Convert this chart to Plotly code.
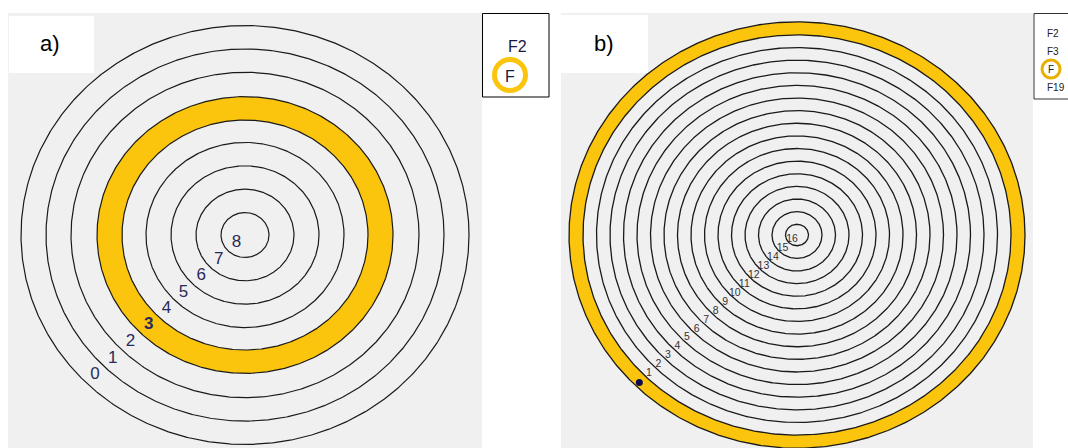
import numpy as np
import plotly.graph_objects as go

W, H = 1068, 448

# ---------------- data ----------------
# panel a: ring semi-axes (horizontal, px) for rings 0..8
A_RING_RX = [224, 199, 174, 148, 123, 99, 74, 49, 24]
A_LABELS = ["0", "1", "2", "3", "4", "5", "6", "7", "8"]
A_BAND = (3, 4)          # highlighted band lies between ring 3 and ring 4
A_BOLD_LABEL = "3"
A_LEGEND = ["F2", "F"]

# panel b: outer edge of highlighted band + rings 1..16
B_BAND_OUTER_RX = 228
B_RING_RX = [214, 200.5, 187, 173.5, 160, 146.5, 133, 119.5, 106, 92.5,
             79, 65.5, 52, 38.5, 25, 11.5]
B_LABELS = [str(i) for i in range(1, 17)]
B_LEGEND = ["F2", "F3", "F", "F19"]

ASPECT = 0.935           # vertical / horizontal semi-axis ratio

# ---------------- layout constants ----------------
A_C = (245, 235)
B_C = (797, 235)
YELLOW = "#FBC50E"
GRAY = "#F0F0F0"
LINE = "#1a1a1a"
FONT = "Arial, Liberation Sans, sans-serif"


def ellipse(c, rx, reverse=False, n=721):
    t = np.linspace(0, 2 * np.pi, n)
    if reverse:
        t = t[::-1]
    return c[0] + rx * np.cos(t), c[1] + rx * ASPECT * np.sin(t)


def band_trace(c, r_out, r_in):
    xo, yo = ellipse(c, r_out)
    xi, yi = ellipse(c, r_in, reverse=True)
    return go.Scatter(x=np.concatenate([xo, xi]), y=np.concatenate([yo, yi]),
                      mode="lines", fill="toself", fillcolor=YELLOW,
                      line=dict(width=0), hoverinfo="skip", showlegend=False)


def rings_trace(c, radii, width):
    xs, ys = [], []
    for r in radii:
        x, y = ellipse(c, r)
        xs += list(x) + [None]
        ys += list(y) + [None]
    return go.Scatter(x=xs, y=ys, mode="lines", line=dict(color=LINE, width=width),
                      hoverinfo="skip", showlegend=False)


def label_pos(c, radii, inset):
    d = np.array(radii) - inset
    ang = np.deg2rad(135)
    return c[0] + d * np.cos(ang), c[1] + d * ASPECT * np.sin(ang)


fig = go.Figure()

# panel a
fig.add_trace(band_trace(A_C, A_RING_RX[A_BAND[0]], A_RING_RX[A_BAND[1]]))
fig.add_trace(rings_trace(A_C, A_RING_RX, 1.2))
ax, ay = label_pos(A_C, A_RING_RX, 12)
fig.add_trace(go.Scatter(
    x=ax, y=ay, mode="text",
    text=[f"<b>{s}</b>" if s == A_BOLD_LABEL else s for s in A_LABELS],
    textfont=dict(family=FONT, size=17, color="#2a2a58"),
    hoverinfo="skip", showlegend=False))

# panel b
fig.add_trace(band_trace(B_C, B_BAND_OUTER_RX, B_RING_RX[0]))
fig.add_trace(rings_trace(B_C, [B_BAND_OUTER_RX] + B_RING_RX, 1.3))
bx, by = label_pos(B_C, B_RING_RX, 4.5)
fig.add_trace(go.Scatter(
    x=bx, y=by, mode="text", text=B_LABELS,
    textfont=dict(family=FONT, size=10.5, color="#333333"),
    hoverinfo="skip", showlegend=False))
# marker dot inside the band
dx, dy = label_pos(B_C, [(B_BAND_OUTER_RX + B_RING_RX[0]) / 2 + 2], 0)
fig.add_trace(go.Scatter(x=dx, y=dy, mode="markers",
                         marker=dict(size=7, color="#0b0b50", symbol="circle"),
                         hoverinfo="skip", showlegend=False))

# legend ring icons
fig.add_trace(go.Scatter(x=[510], y=[75], mode="markers",
                         marker=dict(symbol="circle-open", size=31, color=YELLOW,
                                     line=dict(width=5, color=YELLOW)),
                         hoverinfo="skip", showlegend=False))
fig.add_trace(go.Scatter(x=[1051], y=[69], mode="markers",
                         marker=dict(symbol="circle-open", size=18, color="#E8B000",
                                     line=dict(width=3, color="#E8B000")),
                         hoverinfo="skip", showlegend=False))

shapes = [
    dict(type="rect", x0=8, x1=482, y0=13, y1=449, fillcolor=GRAY, line=dict(width=0), layer="below"),
    dict(type="rect", x0=561, x1=1033, y0=13, y1=449, fillcolor=GRAY, line=dict(width=0), layer="below"),
    dict(type="rect", x0=9, x1=94, y0=16, y1=73, fillcolor="white", line=dict(width=0), layer="below"),
    dict(type="rect", x0=561, x1=648, y0=15, y1=73, fillcolor="white", line=dict(width=0), layer="below"),
    dict(type="rect", x0=482.5, x1=549, y0=13.5, y1=97, fillcolor="white",
         line=dict(width=1, color="black"), layer="below"),
    dict(type="rect", x0=1034, x1=1080, y0=13.5, y1=99, fillcolor="white",
         line=dict(width=1, color="#333333"), layer="below"),
]

ann = []


def add_text(x, y, s, size, color="black"):
    ann.append(dict(x=x, y=y, xref="x", yref="y", text=s, showarrow=False,
                    font=dict(family=FONT, size=size, color=color),
                    xanchor="center", yanchor="middle"))


add_text(50, 43, "a)", 22)
add_text(604, 43, "b)", 22)
add_text(517, 46, A_LEGEND[0], 16, "#1a1a40")
add_text(510, 76, A_LEGEND[1], 16, "#1a1a40")
for s, y, x in zip(B_LEGEND, [33, 51, 69, 87], [1053, 1053, 1051, 1056]):
    add_text(x, y, s, 10, "#222222")

fig.update_layout(
    width=W, height=H, margin=dict(l=0, r=0, t=0, b=0),
    paper_bgcolor="white", plot_bgcolor="white",
    xaxis=dict(range=[0, W], visible=False, fixedrange=True),
    yaxis=dict(range=[H, 0], visible=False, fixedrange=True),
    shapes=shapes, annotations=ann, showlegend=False,
)

fig.write_html("out.html", config={"displayModeBar": False, "staticPlot": True},
               post_script="document.body.style.margin='0';document.body.style.overflow='hidden';")
